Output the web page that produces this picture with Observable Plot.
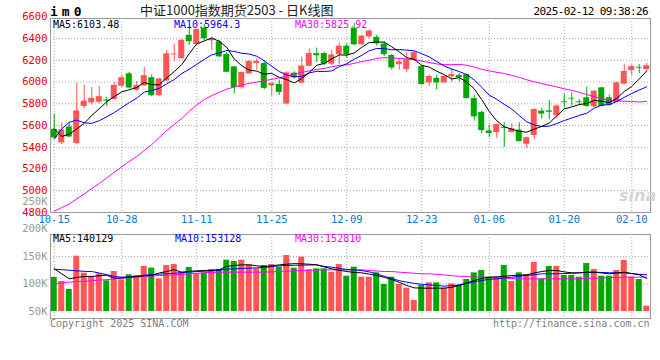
<!DOCTYPE html>
<html><head><meta charset="utf-8">
<script src="https://cdn.jsdelivr.net/npm/d3@7"></script>
<script src="https://cdn.jsdelivr.net/npm/@observablehq/plot@0.6"></script>
<style>
body{margin:0;background:#fff;}
#wrap{position:relative;width:660px;height:360px;overflow:hidden;background:#fff;font-family:"DejaVu Sans Mono",monospace;}
.t{position:absolute;white-space:nowrap;line-height:1;font-size:10px;}
.p{position:absolute;left:0;}
.p svg{overflow:visible;background:transparent;}
</style></head>
<body><div id="wrap"></div>
<script>
const dates = ["2024-10-15","2024-10-16","2024-10-17","2024-10-18","2024-10-21","2024-10-22","2024-10-23","2024-10-24","2024-10-25","2024-10-28","2024-10-29","2024-10-30","2024-10-31",
"2024-11-01","2024-11-04","2024-11-05","2024-11-06","2024-11-07","2024-11-08","2024-11-11","2024-11-12","2024-11-13","2024-11-14","2024-11-15","2024-11-18","2024-11-19","2024-11-20","2024-11-21","2024-11-22","2024-11-25","2024-11-26","2024-11-27","2024-11-28","2024-11-29",
"2024-12-02","2024-12-03","2024-12-04","2024-12-05","2024-12-06","2024-12-09","2024-12-10","2024-12-11","2024-12-12","2024-12-13","2024-12-16","2024-12-17","2024-12-18","2024-12-19","2024-12-20","2024-12-23","2024-12-24","2024-12-25","2024-12-26","2024-12-27","2024-12-30","2024-12-31",
"2025-01-02","2025-01-03","2025-01-06","2025-01-07","2025-01-08","2025-01-09","2025-01-10","2025-01-13","2025-01-14","2025-01-15","2025-01-16","2025-01-17","2025-01-20","2025-01-21","2025-01-22","2025-01-23","2025-01-24","2025-01-27",
"2025-02-05","2025-02-06","2025-02-07","2025-02-10","2025-02-11","2025-02-12"];
const open = [5565,5440,5586,5435,5775,5808,5815,5835,5840,5962, 6076,5925,5965,6040,5875,6010,6250,6215,6430,6345, 6495,6380,6370,6255,6140,5948,6075,6170,6170,5965, 5978,5798,6082,5990,6145,6262,6262,6165,6252,6330, 6493,6343,6415,6412,6350,6245,6160,6115,6204,6142, 5993,6035,5992,6048,6060,6068,5848,5722,5550,5536, 5583,5535,5557,5428,5508,5733,5735,5690,5818,5850, 5818,5856,5772,5947,5856,5812,5980,6105,6136,6115];
const high = [5705,5625,5630,5990,5970,5950,5960,5860,5995,6065, 6090,6004,6135,6065,6035,6290,6350,6390,6495,6485, 6530,6413,6385,6270,6145,6090,6195,6215,6200,5990, 6019,6095,6095,6230,6305,6313,6275,6292,6360,6350, 6540,6430,6480,6430,6370,6255,6210,6270,6280,6150, 6065,6060,6055,6120,6080,6072,5880,5730,5600,5612, 5630,5615,5625,5495,5755,5760,5830,5790,5885,5900, 5840,5955,5925,5950,5880,6000,6160,6160,6160,6172];
const low = [5480,5425,5488,5420,5755,5790,5800,5775,5835,5950, 5934,5913,5960,5865,5870,6005,6190,6210,6338,6340, 6380,6292,6225,6085,5890,5935,6070,6110,5930,5868, 5877,5792,6030,5985,6140,6180,6150,6150,6156,6220, 6335,6340,6400,6330,6235,6110,6110,6090,6190,5970, 5960,5928,5990,5995,6000,5845,5640,5525,5490,5482, 5398,5535,5450,5385,5470,5660,5655,5660,5760,5780, 5785,5770,5765,5772,5780,5810,5975,6060,6080,6100];
const close = [5485,5560,5495,5735,5825,5850,5866,5825,5970,6040, 5945,5968,6059,5875,6029,6260,6258,6385,6372,6483, 6398,6392,6232,6090,5948,6089,6190,6190,5942,5988, 5905,6085,6040,6148,6262,6242,6165,6250,6330,6252, 6343,6423,6470,6352,6252,6130,6186,6205,6271,5978, 6052,5992,6052,6068,6040,5848,5680,5553,5527,5610, 5575,5570,5452,5488,5748,5705,5722,5780,5810,5843, 5810,5774,5916,5776,5786,5992,6098,6142,6128,6150];
const ma5 = [5570,5500,5520,5570,5620,5693,5754,5820,5867,5910,5929,5950,5996,5977,5975,6038,6096,6161,6261,6352,6379,6406,6375,6319,6212,6150,6110,6101,6072,6080,6043,6022,5992,6033,6088,6155,6171,6213,6250,6248,6268,6320,6364,6368,6368,6325,6278,6225,6209,6154,6138,6100,6069,6028,6041,6000,5938,5838,5730,5644,5589,5567,5547,5539,5567,5593,5623,5689,5753,5772,5793,5803,5831,5824,5812,5849,5914,5959,6029,6102];
const ma10 = [5475,5570,5630,5650,5625,5620,5645,5680,5720,5765,5811,5852,5908,5922,5943,5984,6023,6079,6119,6163,6209,6251,6268,6290,6282,6265,6258,6238,6195,6146,6097,6066,6047,6053,6084,6099,6097,6103,6142,6168,6212,6246,6289,6309,6308,6297,6299,6294,6288,6261,6232,6189,6147,6119,6097,6069,6019,5953,5879,5842,5795,5752,5692,5634,5605,5591,5595,5618,5646,5669,5693,5713,5760,5788,5792,5821,5859,5895,5927,5957];
const ma30 = [4812,4845,4877,4925,4970,5020,5067,5118,5170,5220,5270,5315,5370,5425,5490,5555,5610,5665,5730,5790,5840,5875,5905,5935,5955,5972,5988,6000,6012,6025,6039,6056,6074,6088,6103,6116,6126,6140,6152,6159,6172,6188,6201,6217,6225,6220,6218,6212,6208,6192,6180,6167,6161,6160,6163,6155,6138,6117,6103,6090,6079,6062,6043,6021,6003,5986,5971,5955,5938,5924,5906,5885,5866,5847,5832,5827,5824,5822,5817,5823];
// volume in K, as read against the panel's axis labels
const vol = [112,104.5,90,150.5,119.7,112,118.5,105.8,122.7,107.6, 116.7,115.5,131.8,128.8,109.4,133.6,135.5,121.5,130,118.5, 120.3,126.4,126.4,143.3,141,143.3,135,127.6,133.6,135.5, 130.6,151.8,128.8,148.8,125.8,127.6,127.6,121.5,135.5,114.2, 130.6,112.4,112.4,120.3,99.1,112.4,99.1,92.4,70,97.3, 102.1,102.1,92.4,100.3,97.3,108.2,120.3,124.5,112.4,112.4, 133.6,104.5,120.3,116.7,139.1,109.4,131.8,131.8,115.5,115.5, 112.4,137.3,126.4,114.2,114.2,124.5,142.7,112.4,108.2,59.6];
const vma5 = [127.6,118.5,109.4,112,113.6,113.6,115,116,110.6,111,112.4,113.5,115,115.5,120,122.7,125.8,121.5,123,124,124.5,125,126,132,133.6,134.8,134.8,133,131.8,133,134.8,136,137,136.7,136,134.8,131,127.6,125,122.7,121,120.3,118,115.5,112,108.2,103,97.3,93,92.4,92.4,92.4,92.4,94,97.3,102,106.4,110,112.4,113,114,115.5,116,116.7,120,122.7,124.5,124.5,122,120.3,120.3,121.5,121.5,120,118.5,120,121.5,119,116.7,110];
const vma10 = [126.7,126,125,124,123,122.7,120,117,113.5,112.4,113,114,116,117,118,118.5,119.5,120.5,121.5,122.7,123.2,123.9,125,127,127.6,128.2,128.8,129.4,130,131.8,133,133.6,134,134.2,134.5,134.8,132,130.6,128.5,126.4,125.5,124.5,122,118.5,114,110,106,103.3,101,99.5,98.5,97.5,96.1,97,98.5,101,104,106.4,108.5,109.4,111,112.4,114,115.5,117,118.5,118.5,118.5,119,119.5,120.3,120.8,121.5,121,120.5,120.3,120.3,119,117.5,116.7];
const vma30 = [100.3,102,103.3,104.5,105,106,107,108,109.4,110.5,111.5,112.4,113.5,114.5,115.5,115.5,116.5,117.5,118.5,119.5,120.5,121,121.5,121.5,121.5,121.5,121.5,121.5,121.5,122,123,123.5,124,124.5,125,125.5,125.8,125.8,125.8,125.8,125.8,125.8,124.5,123.5,122.7,122.7,121.5,120.5,119.5,118.5,118.5,117.5,116.5,115,114.2,113.5,112.4,112.4,112,111,110.5,110,109.4,109.4,109.4,109.4,109.4,109.4,109.4,109.4,109.4,110,110.6,111,111.5,112,112.4,112.4,112.4,112.4];
const tickDates = ["2024-10-15","2024-10-28","2024-11-11","2024-11-25","2024-12-09","2024-12-23","2025-01-06","2025-01-20","2025-02-10"];
const priceTicks = [4800,5000,5200,5400,5600,5800,6000,6200,6400,6600];
const priceGrid = [5000,5200,5400,5600,5800,6000,6200,6400];
const volTicks = [50,100,150,200,250];
const volGrid = [100,150];
const maTexts = [["MA5:6103.48","#000",53],["MA10:5964.3","#0000ff",174],["MA30:5825.92","#ff00ff",295]];
const vmaTexts = [["MA5:140129","#000",53],["MA10:153128","#0000ff",175],["MA30:152810","#ff00ff",295]];

const RED = "#ff5555", GREEN = "#00a800";
const data = dates.map((date, i) => ({date, open: open[i], high: high[i], low: low[i], close: close[i], vol: vol[i],
  ma5: ma5[i], ma10: ma10[i], ma30: ma30[i], vma5: vma5[i], vma10: vma10[i], vma30: vma30[i]}));
const col = d => d.close >= d.open ? RED : GREEN;
const dotted = {stroke: "#a8a8a8", strokeOpacity: 1, strokeDasharray: "1,2"};
const xBand = {type: "band", domain: dates, paddingInner: 0.2, paddingOuter: 0.1};
const style = {background: "transparent", fontFamily: "'DejaVu Sans Mono', monospace", fontSize: "10.5px", overflow: "visible"};

const price = Plot.plot({
  width: 660, height: 228, marginLeft: 50, marginRight: 10, marginTop: 18, marginBottom: 16,
  style, x: xBand, y: {domain: [4800, 6585]},
  marks: [
    Plot.gridY(priceGrid, dotted),
    Plot.gridX(tickDates, dotted),
    Plot.ruleX(data, {x: "date", y1: "low", y2: "high", stroke: col}),
    Plot.barY(data, {x: "date", y1: "open", y2: "close", fill: col}),
    Plot.line(data, {x: "date", y: "ma30", stroke: "#ff00ff", strokeWidth: 1}),
    Plot.line(data, {x: "date", y: "ma10", stroke: "#0000ff", strokeWidth: 1}),
    Plot.line(data, {x: "date", y: "ma5", stroke: "#000", strokeWidth: 1}),
    Plot.frame({stroke: "#999"}),
    Plot.axisY(priceTicks, {tickSize: 0, tickPadding: 3, color: "#e00000", label: null, tickFormat: d => String(d)}),
    Plot.axisX(tickDates, {tickSize: 0, tickPadding: 3, color: "#0a78c8", label: null, tickFormat: d => d.slice(5)})
  ]
});

const volume = Plot.plot({
  width: 660, height: 114, marginLeft: 50, marginRight: 10, marginTop: 8, marginBottom: 22,
  style, x: {...xBand, axis: null}, y: {domain: [37.27, 190]},
  marks: [
    Plot.gridY(volGrid, dotted),
    Plot.gridX(tickDates, dotted),
    Plot.barY(data, {x: "date", y1: 50, y2: "vol", fill: col}),
    Plot.line(data, {x: "date", y: "vma30", stroke: "#ff00ff", strokeWidth: 1}),
    Plot.line(data, {x: "date", y: "vma10", stroke: "#0000ff", strokeWidth: 1}),
    Plot.line(data, {x: "date", y: "vma5", stroke: "#000", strokeWidth: 1}),
    Plot.frame({stroke: "#999"}),
    Plot.axisY(volTicks, {tickSize: 0, tickPadding: 3, color: "#999", label: null, tickFormat: d => d + "K"})
  ]
});

const wrap = document.getElementById("wrap");
const p1 = document.createElement("div"); p1.className = "p"; p1.style.top = "0px"; p1.appendChild(price); wrap.appendChild(p1);
const p2 = document.createElement("div"); p2.className = "p"; p2.style.top = "226px"; p2.appendChild(volume); wrap.appendChild(p2);

function txt(s, css) {
  const d = document.createElement("div"); d.className = "t"; d.textContent = s;
  Object.assign(d.style, css); wrap.appendChild(d); return d;
}
txt("im0", {left: "50px", top: "5px", fontSize: "13px", fontWeight: "bold", letterSpacing: "4px", color: "#000"});
txt("中证1000指数期货2503 - 日K线图", {left: "140px", top: "3px", fontSize: "13px", fontFamily: "'Noto Sans CJK SC', sans-serif", color: "#222"});
txt("2025-02-12 09:38:26", {right: "12px", top: "6px", fontSize: "11px", letterSpacing: "-0.6px", color: "#000"});
maTexts.forEach(([s, c, x]) => txt(s, {left: x + "px", top: "19.5px", color: c}));
vmaTexts.forEach(([s, c, x]) => txt(s, {left: x + "px", top: "233.5px", color: c}));
txt("Copyright 2025 SINA.COM", {left: "50px", top: "319px", color: "#808080"});
txt("http://finance.sina.com.cn", {left: "493px", top: "319px", color: "#808080"});
txt("sina", {left: "619px", top: "188px", fontSize: "16px", fontWeight: "bold", fontStyle: "italic", fontFamily: "'DejaVu Sans', sans-serif", color: "#d4d4d4"});
</script></body></html>
